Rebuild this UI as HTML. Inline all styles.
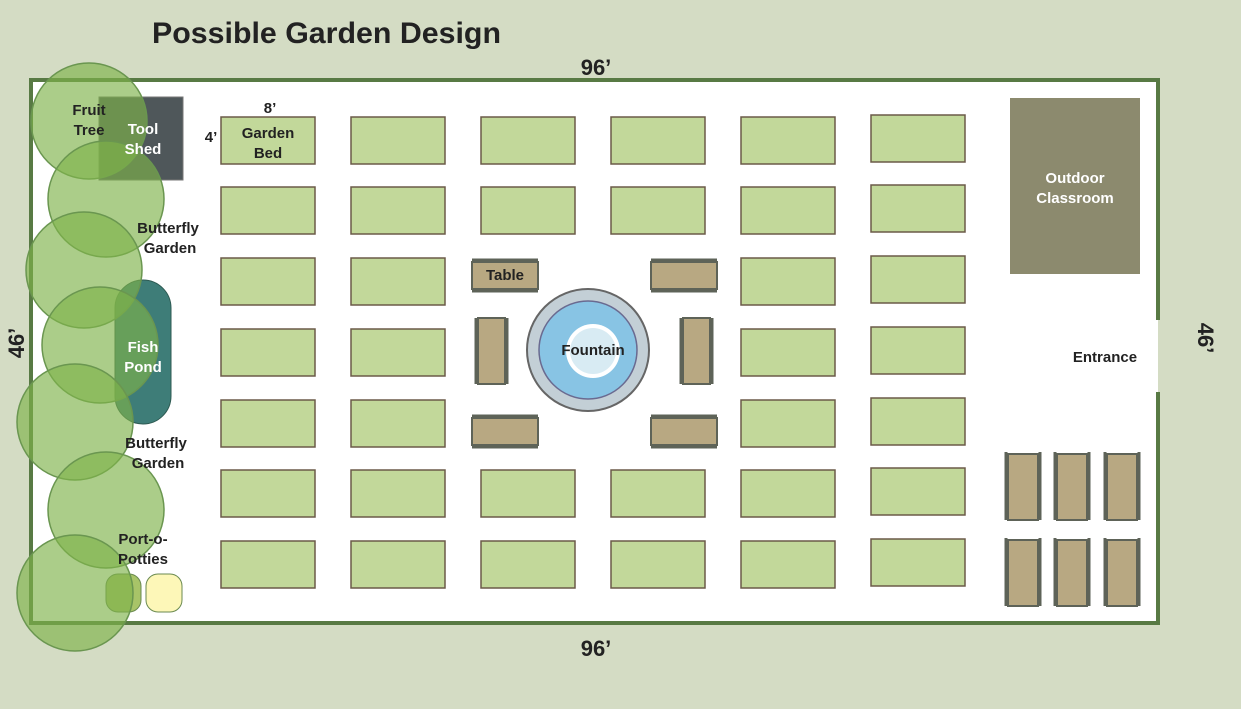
<!DOCTYPE html>
<html><head><meta charset="utf-8"><style>
html,body{margin:0;padding:0;background:#d4dcc4;}
svg{display:block;font-family:"Liberation Sans",Arial,sans-serif;font-weight:bold;}
</style></head><body>
<svg width="1241" height="709" viewBox="0 0 1241 709">
<rect width="1241" height="709" fill="#d4dcc4"/>
<text x="152" y="43" font-size="30" fill="#222" textLength="349" lengthAdjust="spacingAndGlyphs">Possible Garden Design</text>
<text x="596" y="75" font-size="22" fill="#222" text-anchor="middle">96’</text>
<text x="596" y="656" font-size="22" fill="#222" text-anchor="middle">96’</text>
<text transform="translate(24,343) rotate(-90)" font-size="22" fill="#222" text-anchor="middle">46’</text>
<text transform="translate(1198,338) rotate(90)" font-size="22" fill="#222" text-anchor="middle">46’</text>
<rect x="31" y="80" width="1127" height="543" fill="#fff"/>
<path d="M1158,320 V80 H31 V623 H1158 V392" fill="none" stroke="#587a44" stroke-width="4"/>
<g fill="#c2d89a" stroke="#6b5a48" stroke-width="1.5">
<rect x="221" y="117" width="94" height="47"/><rect x="351" y="117" width="94" height="47"/><rect x="481" y="117" width="94" height="47"/><rect x="611" y="117" width="94" height="47"/><rect x="741" y="117" width="94" height="47"/><rect x="871" y="115" width="94" height="47"/>
<rect x="221" y="187" width="94" height="47"/><rect x="351" y="187" width="94" height="47"/><rect x="481" y="187" width="94" height="47"/><rect x="611" y="187" width="94" height="47"/><rect x="741" y="187" width="94" height="47"/><rect x="871" y="185" width="94" height="47"/>
<rect x="221" y="258" width="94" height="47"/><rect x="351" y="258" width="94" height="47"/><rect x="741" y="258" width="94" height="47"/><rect x="871" y="256" width="94" height="47"/>
<rect x="221" y="329" width="94" height="47"/><rect x="351" y="329" width="94" height="47"/><rect x="741" y="329" width="94" height="47"/><rect x="871" y="327" width="94" height="47"/>
<rect x="221" y="400" width="94" height="47"/><rect x="351" y="400" width="94" height="47"/><rect x="741" y="400" width="94" height="47"/><rect x="871" y="398" width="94" height="47"/>
<rect x="221" y="470" width="94" height="47"/><rect x="351" y="470" width="94" height="47"/><rect x="481" y="470" width="94" height="47"/><rect x="611" y="470" width="94" height="47"/><rect x="741" y="470" width="94" height="47"/><rect x="871" y="468" width="94" height="47"/>
<rect x="221" y="541" width="94" height="47"/><rect x="351" y="541" width="94" height="47"/><rect x="481" y="541" width="94" height="47"/><rect x="611" y="541" width="94" height="47"/><rect x="741" y="541" width="94" height="47"/><rect x="871" y="539" width="94" height="47"/>
</g>
<text x="268" y="138" font-size="15" fill="#222" text-anchor="middle">Garden</text>
<text x="268" y="158" font-size="15" fill="#222" text-anchor="middle">Bed</text>
<text x="270" y="113" font-size="15" fill="#222" text-anchor="middle">8’</text>
<text x="211" y="142" font-size="15" fill="#222" text-anchor="middle">4’</text>
<g fill="#b8a882" stroke="#5e6358" stroke-width="2">
<rect x="472" y="262" width="66" height="27"/><rect x="651" y="262" width="66" height="27"/>
<rect x="472" y="418" width="66" height="27"/><rect x="651" y="418" width="66" height="27"/>
<rect x="478" y="318" width="27" height="66"/><rect x="683" y="318" width="27" height="66"/>
<rect x="1008" y="454" width="30" height="66"/><rect x="1057" y="454" width="30" height="66"/><rect x="1107" y="454" width="30" height="66"/>
<rect x="1008" y="540" width="30" height="66"/><rect x="1057" y="540" width="30" height="66"/><rect x="1107" y="540" width="30" height="66"/>
</g>
<g stroke="#5e6358" stroke-width="3">
<path d="M472,260H538M472,291H538M651,260H717M651,291H717M472,416H538M472,447H538M651,416H717M651,447H717"/>
<path d="M476,318V384M507,318V384M681,318V384M712,318V384"/>
<path d="M1006,452V520M1040,452V520M1055,452V520M1089,452V520M1105,452V520M1139,452V520"/>
<path d="M1006,538V606M1040,538V606M1055,538V606M1089,538V606M1105,538V606M1139,538V606"/>
</g>
<text x="505" y="280" font-size="15" fill="#222" text-anchor="middle">Table</text>
<circle cx="588" cy="350" r="61" fill="#c3cfd6" stroke="#666" stroke-width="2"/>
<circle cx="588" cy="350" r="49" fill="#88c4e4" stroke="#6a6a90" stroke-width="1.5"/>
<circle cx="593" cy="351" r="27" fill="#fff"/>
<circle cx="593" cy="351" r="23" fill="#d8ebf3"/>
<text x="593" y="355" font-size="15" fill="#222" text-anchor="middle">Fountain</text>
<rect x="1010" y="98" width="130" height="176" fill="#8c8a6e"/>
<text x="1075" y="183" font-size="15" fill="#fff" text-anchor="middle">Outdoor</text>
<text x="1075" y="203" font-size="15" fill="#fff" text-anchor="middle">Classroom</text>
<text x="1105" y="362" font-size="15" fill="#222" text-anchor="middle">Entrance</text>
<rect x="99" y="97" width="84" height="83" fill="#4f575a" stroke="#777" stroke-width="1"/>
<rect x="115" y="280" width="56" height="144" rx="28" fill="#3e7d78" stroke="#2d5a52"/>
<rect x="106" y="574" width="35" height="38" rx="12" fill="#a8c468" stroke="#6a8a50"/>
<rect x="146" y="574" width="36" height="38" rx="12" fill="#fdf7b8" stroke="#6a8a50"/>
<g fill="rgba(126,178,74,0.65)" stroke="#6a9650" stroke-width="1.5">
<circle cx="89" cy="121" r="58"/><circle cx="106" cy="199" r="58"/><circle cx="84" cy="270" r="58"/><circle cx="100" cy="345" r="58"/><circle cx="75" cy="422" r="58"/><circle cx="106" cy="510" r="58"/><circle cx="75" cy="593" r="58"/>
</g>
<text x="89" y="115" font-size="15" fill="#222" text-anchor="middle">Fruit</text>
<text x="89" y="135" font-size="15" fill="#222" text-anchor="middle">Tree</text>
<text x="143" y="134" font-size="15" fill="#fff" text-anchor="middle">Tool</text>
<text x="143" y="154" font-size="15" fill="#fff" text-anchor="middle">Shed</text>
<text x="168" y="233" font-size="15" fill="#222" text-anchor="middle">Butterfly</text>
<text x="170" y="253" font-size="15" fill="#222" text-anchor="middle">Garden</text>
<text x="143" y="352" font-size="15" fill="#fff" text-anchor="middle">Fish</text>
<text x="143" y="372" font-size="15" fill="#fff" text-anchor="middle">Pond</text>
<text x="156" y="448" font-size="15" fill="#222" text-anchor="middle">Butterfly</text>
<text x="158" y="468" font-size="15" fill="#222" text-anchor="middle">Garden</text>
<text x="143" y="544" font-size="15" fill="#222" text-anchor="middle">Port-o-</text>
<text x="143" y="564" font-size="15" fill="#222" text-anchor="middle">Potties</text>
</svg>
</body></html>
